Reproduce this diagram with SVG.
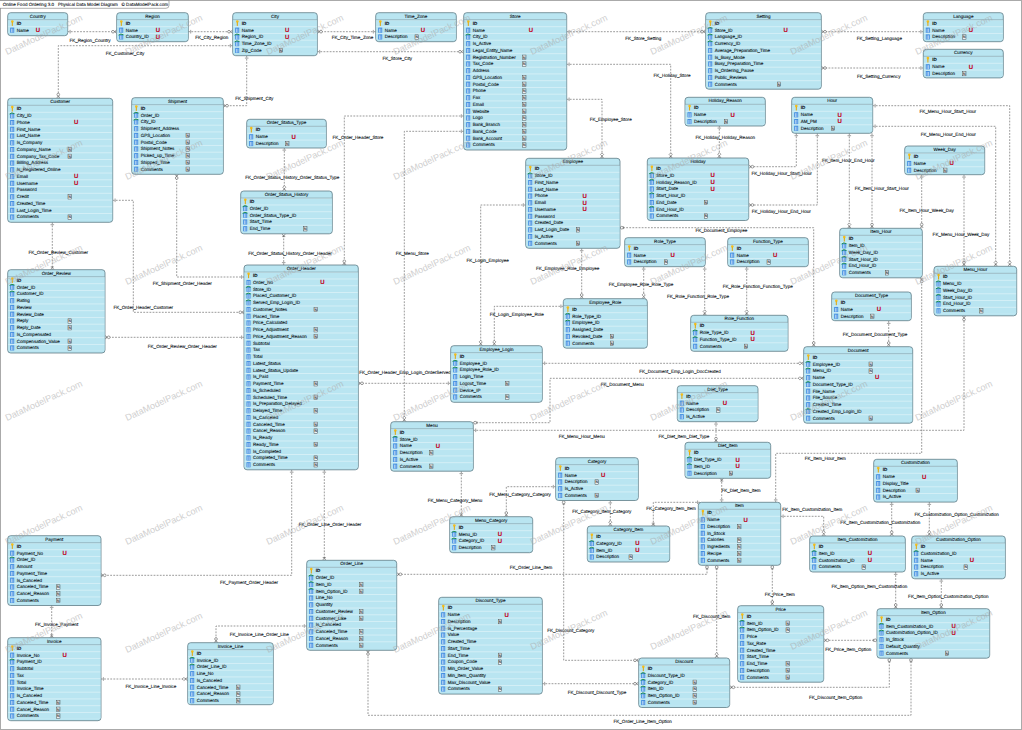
<svg xmlns="http://www.w3.org/2000/svg" width="1022" height="730" viewBox="0 0 1022 730">
<style>
text{font-family:"Liberation Sans",Arial,sans-serif;font-size:4.55px;fill:#0d1418;stroke:#0d1418;stroke-width:.1px;text-rendering:geometricPrecision}
.tt,.lb{text-anchor:middle}
.id{font-weight:bold}
.u{fill:#c4001a;stroke:#c4001a;font-weight:bold;font-size:6px;text-anchor:middle}
.n{font-size:3.5px;text-anchor:middle}
.b{fill:#b9e5f1;stroke:#5f7c87;stroke-width:.8}
.s{fill:url(#rw)}
.h{stroke:#7f9aa5;stroke-width:.6;fill:none}
.l{fill:none;stroke:#555;stroke-width:.6;stroke-dasharray:1.8 1.3}
.mp{marker-start:url(#p)}.mq{marker-start:url(#q)}
.eo{marker-end:url(#o)}.ed{marker-end:url(#d)}.et{marker-end:url(#t)}
.w{font-size:9.1px;fill:#a8a8a8;stroke:none;opacity:.55}
marker path,marker circle{stroke:#444;stroke-width:.5;fill:none}
marker circle,marker .df{fill:#fff}
</style>
<defs>
<pattern id="rw" patternUnits="userSpaceOnUse" width="20" height="6.75"><rect width="20" height="6.75" fill="#b9e5f1"/><rect y="0" width="20" height=".7" fill="#dff3f8"/></pattern>
<marker id="p" markerUnits="userSpaceOnUse" markerWidth="8" markerHeight="8" refX="8" refY="4" orient="auto-start-reverse"><path d="M5.6 2.2V5.8"/></marker>
<marker id="q" markerUnits="userSpaceOnUse" markerWidth="8" markerHeight="8" refX="8" refY="4" orient="auto-start-reverse"><path d="M4.4 2.6V5.4"/><circle cx="6.2" cy="4" r="1.4"/></marker>
<marker id="o" markerUnits="userSpaceOnUse" markerWidth="8" markerHeight="8" refX="8" refY="4" orient="auto-start-reverse"><path d="M5.6 4L8 2.3M5.6 4L8 5.7"/><circle cx="4.3" cy="4" r="1.35"/></marker>
<marker id="d" markerUnits="userSpaceOnUse" markerWidth="8" markerHeight="8" refX="8" refY="4" orient="auto-start-reverse"><path d="M5.6 4L8 2.3M5.6 4L8 5.7"/><path class="df" d="M2.6 4L4.2 2.4L5.8 4L4.2 5.6Z"/></marker>
<marker id="t" markerUnits="userSpaceOnUse" markerWidth="8" markerHeight="8" refX="8" refY="4" orient="auto-start-reverse"><path d="M5.6 4L8 2.3M5.6 4L8 5.7M5.2 2.4V5.6"/></marker>
<g id="k"><circle cx="4.6" cy="-3.3" r="1.3" fill="#f6bd16"/><rect x="4.1" y="-2.6" width="1" height="3.7" fill="#e3a400"/></g>
<g id="c"><rect x="2.5" y="-3.9" width="4" height="5.1" fill="#3f8be0"/><path d="M3.8 -3V.9M5.2 -3V.9" stroke="#fff" stroke-width=".55" fill="none"/></g>
<g id="f"><rect x="2.5" y="-3.9" width="4" height="5.1" fill="#3f8be0"/><path d="M3.8 -2.8V.9M5.2 -2.8V.9" stroke="#fff" stroke-width=".55" fill="none"/><path d="M1.9 -3.1Q4 -5.3 6.8 -3.4" stroke="#15893f" stroke-width=".9" fill="none"/></g>
<rect id="b" x="-1.7" y="-3.5" width="3.4" height="4.4" fill="#eef3f5" stroke="#444" stroke-width=".45"/>
</defs>
<rect width="1022" height="730" fill="#fff"/>
<rect x=".5" y=".5" width="1021" height="729" fill="none" stroke="#aaa"/>
<g id="title"><path d="M0 .5H169V5.3Q169 8.3 166 8.3H0" fill="#fff" stroke="#777" stroke-width=".6"/><text x="2.7" y="6.2">Online Food Ordering 3.0</text><text x="58" y="6.2">Physical Data Model Diagram</text><text x="121.5" y="6.2">© DataModelPack.com</text></g>

<g id="connectors">
<path class="l mp eo" d="M67.7 31.7H116.7"/>
<path class="l mp eo" d="M188.3 31.7H232.7"/>
<path class="l mp eo" d="M232.7 45.7H58.3V98.3"/>
<path class="l mp eo" d="M375.7 31.7H317.3"/>
<path class="l mp eo" d="M317.3 51.7H463.7"/>
<path class="l mp eo" d="M246.7 55.7V105.7H223.3"/>
<path class="l mp ed" d="M284.3 147.7V191"/>
<path class="l mp et" d="M283.7 265V233.8"/>
<path class="l mp et" d="M52.3 222.3V269.7"/>
<path class="l mp eo" d="M112.7 200.3H133.3V312.3H244"/>
<path class="l mp eo" d="M244 277H176.7V174.3"/>
<path class="l mp eo" d="M244 337.3H105"/>
<path class="l mp eo" d="M463.7 116H344.3V265"/>
<path class="l mp ed" d="M463.7 131.3H404.3V421.7"/>
<path class="l mp ed" d="M525.7 205H480.7V345.7"/>
<path class="l mp ed" d="M563.3 306.3H494.3V345.7"/>
<path class="l mp ed" d="M566.7 99.3H602V158.3"/>
<path class="l mp eo" d="M566.7 31.7H705.7"/>
<path class="l mp ed" d="M566.7 64.3H670.7V158.3"/>
<path class="l mp eo" d="M923.3 31.7H821.3"/>
<path class="l mp eo" d="M923.3 68H821.3"/>
<path class="l mp ed" d="M719.3 125.7V158"/>
<path class="l mp eo" d="M796.3 133.3V166.7H748.7"/>
<path class="l mp eo" d="M817.3 133.3V205H748.7"/>
<path class="l mp ed" d="M849.3 133.3V228.3"/>
<path class="l mp eo" d="M872 133.3V228.3"/>
<path class="l mp eo" d="M921.7 174.7V228.3"/>
<path class="l mp eo" d="M964 174.7V266.3"/>
<path class="l mp ed" d="M872.7 105.7H1009.7V266.3"/>
<path class="l mp ed" d="M872.7 126.3H995.7V266.3"/>
<path class="l mp eo" d="M473.3 430.3H964V315.8"/>
<path class="l mp eo" d="M700 502.3H653.3V526" style="marker-end:url(#t)"/>
<path class="l mp eo" d="M775.7 502.3V453.3H921.7V277.8"/>
<path class="l mp ed" d="M746.7 266.7V315.3"/>
<path class="l mp ed" d="M704.7 266.7V315.3"/>
<path class="l mp ed" d="M643.7 266.7V298.7"/>
<path class="l mp eo" d="M581.7 248.3V298.7"/>
<path class="l mq eo" d="M620 227.7H813.7V346.7"/>
<path class="l mp eo" d="M888.7 321V346.7"/>
<path class="l mp ed" d="M542.3 363.3H803.7"/>
<path class="l mq ed" d="M473.3 422.7H550V378.3H803.7"/>
<path class="l mp eo" d="M450.7 383.3H358.3"/>
<path class="l mp eo" d="M716 421.7V442.3"/>
<path class="l mp et" d="M721.7 502.3V478.3"/>
<path class="l mp et" d="M461.3 471.2V516.7"/>
<path class="l mp eo" d="M555.7 486.7H506.3V516.7"/>
<path class="l mp ed" d="M610.3 500.5V526"/>
<path class="l mq eo" d="M563.7 500.5V660.3H638.7"/>
<path class="l mp eo" d="M542.3 683.7H638.7"/>
<path class="l mq ed" d="M716.7 565.3V658"/>
<path class="l mq eo" d="M707 565.3V574.3H396.7"/>
<path class="l mq eo" d="M911 658.2V715.3H368V650.3"/>
<path class="l mq eo" d="M889.3 658.2V687.3H729.7"/>
<path class="l mq eo" d="M772.3 565.3V605.7"/>
<path class="l mq eo" d="M877 640.3H823.7"/>
<path class="l mp ed" d="M780.7 516.3H823.7V536"/>
<path class="l mp eo" d="M891.7 502V536"/>
<path class="l mp ed" d="M929.3 502V536"/>
<path class="l mp eo" d="M895.7 572V608.7"/>
<path class="l mp eo" d="M941.3 578.7V608.7"/>
<path class="l mp eo" d="M291.7 469.8V575.3H101"/>
<path class="l mp et" d="M324.3 469.8V560.3"/>
<path class="l mp et" d="M51.7 605V637.7"/>
<path class="l mp ed" d="M101 679H187.7"/>
<path class="l mp eo" d="M306.7 626H216V642.7"/>
<text class="lb" x="90" y="41.5">FK_Region_Country</text>
<text class="lb" x="211.7" y="39">FK_City_Region</text>
<text class="lb" x="125" y="55">FK_Customer_City</text>
<text class="lb" x="352.5" y="39">FK_City_Time_Zone</text>
<text class="lb" x="397.3" y="59.6">FK_Store_City</text>
<text class="lb" x="254.3" y="100.3">FK_Shipment_City</text>
<text class="lb" x="292.3" y="179">FK_Order_Status_History_Order_Status_Type</text>
<text class="lb" x="290" y="255">FK_Order_Status_History_Order_Header</text>
<text class="lb" x="58.3" y="254">FK_Order_Review_Customer</text>
<text class="lb" x="143.3" y="309.3">FK_Order_Header_Customer</text>
<text class="lb" x="182.3" y="285">FK_Shipment_Order_Header</text>
<text class="lb" x="182.3" y="347.6">FK_Order_Review_Order_Header</text>
<text class="lb" x="358" y="139.3">FK_Order_Header_Store</text>
<text class="lb" x="412.3" y="255">FK_Menu_Store</text>
<text class="lb" x="487.7" y="261.6">FK_Login_Employee</text>
<text class="lb" x="516.7" y="315.6">FK_Login_Employee_Role</text>
<text class="lb" x="610.7" y="120.6">FK_Employee_Store</text>
<text class="lb" x="643.3" y="40.3">FK_Store_Setting</text>
<text class="lb" x="672" y="77.3">FK_Holiday_Store</text>
<text class="lb" x="879.3" y="40.3">FK_Setting_Language</text>
<text class="lb" x="878.7" y="77.6">FK_Setting_Currency</text>
<text class="lb" x="725.3" y="139.3">FK_Holiday_Holiday_Reason</text>
<text class="lb" x="781.7" y="175">FK_Holiday_Hour_Start_Hour</text>
<text class="lb" x="781.3" y="212.6">FK_Holiday_Hour_End_Hour</text>
<text class="lb" x="848.3" y="162">FK_Item_Hour_End_Hour</text>
<text class="lb" x="881.7" y="190">FK_Item_Hour_Start_Hour</text>
<text class="lb" x="926.7" y="212.3">FK_Item_Hour_Week_Day</text>
<text class="lb" x="961" y="236">FK_Menu_Hour_Week_Day</text>
<text class="lb" x="947.7" y="113.3">FK_Menu_Hour_Start_Hour</text>
<text class="lb" x="948.3" y="135.6">FK_Menu_Hour_End_Hour</text>
<text class="lb" x="581.7" y="437.6">FK_Menu_Hour_Menu</text>
<text class="lb" x="825.3" y="460.3">FK_Item_Hour_Item</text>
<text class="lb" x="757.7" y="287.6">FK_Role_Function_Function_Type</text>
<text class="lb" x="698" y="298.3">FK_Role_Function_Role_Type</text>
<text class="lb" x="641" y="285.6">FK_Employee_Role_Role_Type</text>
<text class="lb" x="567.7" y="270">FK_Employee_Role_Employee</text>
<text class="lb" x="721.3" y="232.3">FK_Document_Employee</text>
<text class="lb" x="875" y="336.3">FK_Document_Document_Type</text>
<text class="lb" x="680" y="373">FK_Document_Emp_Login_DocCreated</text>
<text class="lb" x="622.3" y="386.3">FK_Document_Menu</text>
<text class="lb" x="405" y="374">FK_Order_Header_Emp_Login_OrderServed</text>
<text class="lb" x="684" y="438">FK_Diet_Item_Diet_Type</text>
<text class="lb" x="741" y="492">FK_Diet_Item_Item</text>
<text class="lb" x="455" y="501.6">FK_Menu_Category_Menu</text>
<text class="lb" x="520" y="495.6">FK_Menu_Category_Category</text>
<text class="lb" x="601.7" y="513">FK_Category_Item_Category</text>
<text class="lb" x="671" y="510">FK_Category_Item_Item</text>
<text class="lb" x="570.7" y="631.6">FK_Discount_Category</text>
<text class="lb" x="597" y="694">FK_Discount_Discount_Type</text>
<text class="lb" x="711.7" y="618">FK_Discount_Item</text>
<text class="lb" x="531" y="569.3">FK_Order_Line_Item</text>
<text class="lb" x="642.7" y="723.3">FK_Order_Line_Item_Option</text>
<text class="lb" x="835.7" y="698.6">FK_Discount_Item_Option</text>
<text class="lb" x="779.7" y="595.6">FK_Price_Item</text>
<text class="lb" x="848.3" y="651">FK_Price_Item_Option</text>
<text class="lb" x="812.3" y="511">FK_Item_Customization_Item</text>
<text class="lb" x="880.3" y="524.3">FK_Item_Customization_Customization</text>
<text class="lb" x="956.7" y="515.6">FK_Customization_Option_Customization</text>
<text class="lb" x="869.3" y="587.6">FK_Item_Option_Item_Customization</text>
<text class="lb" x="948.3" y="597.6">FK_Item_Option_Customization_Option</text>
<text class="lb" x="249" y="584">FK_Payment_Order_Header</text>
<text class="lb" x="330" y="525.6">FK_Order_Line_Order_Header</text>
<text class="lb" x="56.7" y="625.6">FK_Invoice_Payment</text>
<text class="lb" x="151" y="688.3">FK_Invoice_Line_Invoice</text>
<text class="lb" x="259.3" y="635.6">FK_Invoice_Line_Order_Line</text>
</g>

<g id="nodes">
<g id="Country" transform="translate(7.7 12.7)"><rect class="b" width="60" height="23" rx="3"/><rect class="s" x=".5" y="7.15" width="59" height="13"/><path class="h" d="M0 7H60"/><text class="tt" x="30" y="5">Country</text>
<use href="#k" y="12.1"/><text class="id" x="9" y="12.1">ID</text>
<use href="#c" y="18.85"/><text x="9" y="18.85">Name</text><text class="u" x="30.3" y="19.3">U</text></g>

<g id="Region" transform="translate(116.7 12.7)"><rect class="b" width="71.6" height="29" rx="3"/><rect class="s" x=".5" y="7.15" width="70.6" height="19.75"/><path class="h" d="M0 7H71.6"/><text class="tt" x="35.8" y="5">Region</text>
<use href="#k" y="12.1"/><text class="id" x="9" y="12.1">ID</text>
<use href="#c" y="18.85"/><text x="9" y="18.85">Name</text><text class="u" x="41.3" y="19.3">U</text>
<use href="#f" y="25.6"/><text x="9" y="25.6">Country_ID</text><text class="u" x="41.3" y="26">U</text></g>

<g id="City" transform="translate(232.7 12.7)"><rect class="b" width="84.6" height="43" rx="3"/><rect class="s" x=".5" y="7.15" width="83.6" height="33.25"/><path class="h" d="M0 7H84.6"/><text class="tt" x="42.3" y="5">City</text>
<use href="#k" y="12.1"/><text class="id" x="9" y="12.1">ID</text>
<use href="#c" y="18.85"/><text x="9" y="18.85">Name</text><text class="u" x="54.6" y="19.3">U</text>
<use href="#f" y="25.6"/><text x="9" y="25.6">Region_ID</text><text class="u" x="54.6" y="26">U</text>
<use href="#f" y="32.35"/><text x="9" y="32.35">Time_Zone_ID</text>
<use href="#c" y="39.1"/><text x="9" y="39.1">Zip_Code</text><use href="#b" x="48.3" y="39.1"/><text class="n" x="48.3" y="39.1">N</text></g>

<g id="Time_Zone" transform="translate(375.7 12.7)"><rect class="b" width="80.6" height="29" rx="3"/><rect class="s" x=".5" y="7.15" width="79.6" height="19.75"/><path class="h" d="M0 7H80.6"/><text class="tt" x="40.3" y="5">Time_Zone</text>
<use href="#k" y="12.1"/><text class="id" x="9" y="12.1">ID</text>
<use href="#c" y="18.85"/><text x="9" y="18.85">Name</text><text class="u" x="47.3" y="19.3">U</text>
<use href="#c" y="25.6"/><text x="9" y="25.6">Description</text><use href="#b" x="41" y="25.6"/><text class="n" x="41" y="25.6">N</text></g>

<g id="Store" transform="translate(463.7 12.7)"><rect class="b" width="103" height="137.3" rx="3"/><rect class="s" x=".5" y="7.15" width="102" height="127.75"/><path class="h" d="M0 7H103"/><text class="tt" x="51.5" y="5">Store</text>
<use href="#k" y="12.1"/><text class="id" x="9" y="12.1">ID</text>
<use href="#c" y="18.85"/><text x="9" y="18.85">Name</text><text class="u" x="67.3" y="19.3">U</text>
<use href="#f" y="25.6"/><text x="9" y="25.6">City_ID</text>
<use href="#c" y="32.35"/><text x="9" y="32.35">Is_Active</text>
<use href="#c" y="39.1"/><text x="9" y="39.1">Legal_Entity_Name</text>
<use href="#c" y="45.85"/><text x="9" y="45.85">Registration_Number</text><use href="#b" x="60.6" y="45.85"/><text class="n" x="60.6" y="45.85">N</text>
<use href="#c" y="52.6"/><text x="9" y="52.6">Tax_Code</text><use href="#b" x="60.6" y="52.6"/><text class="n" x="60.6" y="52.6">N</text>
<use href="#c" y="59.35"/><text x="9" y="59.35">Address</text>
<use href="#c" y="66.1"/><text x="9" y="66.1">GPS_Location</text><use href="#b" x="60.6" y="66.1"/><text class="n" x="60.6" y="66.1">N</text>
<use href="#c" y="72.85"/><text x="9" y="72.85">Postal_Code</text><use href="#b" x="60.6" y="72.85"/><text class="n" x="60.6" y="72.85">N</text>
<use href="#c" y="79.6"/><text x="9" y="79.6">Phone</text><use href="#b" x="60.6" y="79.6"/><text class="n" x="60.6" y="79.6">N</text>
<use href="#c" y="86.35"/><text x="9" y="86.35">Fax</text><use href="#b" x="60.6" y="86.35"/><text class="n" x="60.6" y="86.35">N</text>
<use href="#c" y="93.1"/><text x="9" y="93.1">Email</text><use href="#b" x="60.6" y="93.1"/><text class="n" x="60.6" y="93.1">N</text>
<use href="#c" y="99.85"/><text x="9" y="99.85">Website</text><use href="#b" x="60.6" y="99.85"/><text class="n" x="60.6" y="99.85">N</text>
<use href="#c" y="106.6"/><text x="9" y="106.6">Logo</text><use href="#b" x="60.6" y="106.6"/><text class="n" x="60.6" y="106.6">N</text>
<use href="#c" y="113.35"/><text x="9" y="113.35">Bank_Branch</text><use href="#b" x="60.6" y="113.35"/><text class="n" x="60.6" y="113.35">N</text>
<use href="#c" y="120.1"/><text x="9" y="120.1">Bank_Code</text><use href="#b" x="60.6" y="120.1"/><text class="n" x="60.6" y="120.1">N</text>
<use href="#c" y="126.85"/><text x="9" y="126.85">Bank_Account</text><use href="#b" x="60.6" y="126.85"/><text class="n" x="60.6" y="126.85">N</text>
<use href="#c" y="133.6"/><text x="9" y="133.6">Comments</text><use href="#b" x="60.6" y="133.6"/><text class="n" x="60.6" y="133.6">N</text></g>

<g id="Setting" transform="translate(705.7 12.7)"><rect class="b" width="115.6" height="76.5" rx="3"/><rect class="s" x=".5" y="7.15" width="114.6" height="67"/><path class="h" d="M0 7H115.6"/><text class="tt" x="57.8" y="5">Setting</text>
<use href="#k" y="12.1"/><text class="id" x="9" y="12.1">ID</text>
<use href="#f" y="18.85"/><text x="9" y="18.85">Store_ID</text><text class="u" x="80" y="19.3">U</text>
<use href="#f" y="25.6"/><text x="9" y="25.6">Language_ID</text>
<use href="#f" y="32.35"/><text x="9" y="32.35">Currency_ID</text>
<use href="#c" y="39.1"/><text x="9" y="39.1">Average_Preparation_Time</text>
<use href="#c" y="45.85"/><text x="9" y="45.85">Is_Busy_Mode</text>
<use href="#c" y="52.6"/><text x="9" y="52.6">Busy_Preparation_Time</text>
<use href="#c" y="59.35"/><text x="9" y="59.35">Is_Ordering_Pause</text>
<use href="#c" y="66.1"/><text x="9" y="66.1">Public_Reviews</text>
<use href="#c" y="72.85"/><text x="9" y="72.85">Comments</text><use href="#b" x="73.3" y="72.85"/><text class="n" x="73.3" y="72.85">N</text></g>

<g id="Language" transform="translate(923.3 12.7)"><rect class="b" width="80" height="29" rx="3"/><rect class="s" x=".5" y="7.15" width="79" height="19.75"/><path class="h" d="M0 7H80"/><text class="tt" x="40" y="5">Language</text>
<use href="#k" y="12.1"/><text class="id" x="9" y="12.1">ID</text>
<use href="#c" y="18.85"/><text x="9" y="18.85">Name</text><text class="u" x="47.7" y="19.3">U</text>
<use href="#c" y="25.6"/><text x="9" y="25.6">Description</text><use href="#b" x="41" y="25.6"/><text class="n" x="41" y="25.6">N</text></g>

<g id="Currency" transform="translate(923.3 49.3)"><rect class="b" width="80" height="28.6" rx="3"/><rect class="s" x=".5" y="7.15" width="79" height="19.75"/><path class="h" d="M0 7H80"/><text class="tt" x="40" y="5">Currency</text>
<use href="#k" y="12.1"/><text class="id" x="9" y="12.1">ID</text>
<use href="#c" y="18.85"/><text x="9" y="18.85">Name</text><text class="u" x="47.7" y="19.3">U</text>
<use href="#c" y="25.6"/><text x="9" y="25.6">Description</text><use href="#b" x="41" y="25.6"/><text class="n" x="41" y="25.6">N</text></g>

<g id="Customer" transform="translate(7.7 98.3)"><rect class="b" width="105" height="124" rx="3"/><rect class="s" x=".5" y="7.15" width="104" height="114.25"/><path class="h" d="M0 7H105"/><text class="tt" x="52.5" y="5">Customer</text>
<use href="#k" y="12.1"/><text class="id" x="9" y="12.1">ID</text>
<use href="#f" y="18.85"/><text x="9" y="18.85">City_ID</text>
<use href="#c" y="25.6"/><text x="9" y="25.6">Phone</text><text class="u" x="68.6" y="26">U</text>
<use href="#c" y="32.35"/><text x="9" y="32.35">First_Name</text>
<use href="#c" y="39.1"/><text x="9" y="39.1">Last_Name</text>
<use href="#c" y="45.85"/><text x="9" y="45.85">Is_Company</text>
<use href="#c" y="52.6"/><text x="9" y="52.6">Company_Name</text><use href="#b" x="62" y="52.6"/><text class="n" x="62" y="52.6">N</text>
<use href="#c" y="59.35"/><text x="9" y="59.35">Company_Tax_Code</text><use href="#b" x="62" y="59.35"/><text class="n" x="62" y="59.35">N</text>
<use href="#c" y="66.1"/><text x="9" y="66.1">Billing_Address</text>
<use href="#c" y="72.85"/><text x="9" y="72.85">Is_Registered_Online</text>
<use href="#c" y="79.6"/><text x="9" y="79.6">Email</text><text class="u" x="68.6" y="80">U</text>
<use href="#c" y="86.35"/><text x="9" y="86.35">Username</text><text class="u" x="68.6" y="86.8">U</text>
<use href="#c" y="93.1"/><text x="9" y="93.1">Password</text>
<use href="#c" y="99.85"/><text x="9" y="99.85">Credit</text><use href="#b" x="62" y="99.85"/><text class="n" x="62" y="99.85">N</text>
<use href="#c" y="106.6"/><text x="9" y="106.6">Created_Time</text>
<use href="#c" y="113.35"/><text x="9" y="113.35">Last_Login_Time</text>
<use href="#c" y="120.1"/><text x="9" y="120.1">Comments</text><use href="#b" x="62" y="120.1"/><text class="n" x="62" y="120.1">N</text></g>

<g id="Shipment" transform="translate(131.7 97.7)"><rect class="b" width="91.6" height="76.6" rx="3"/><rect class="s" x=".5" y="7.15" width="90.6" height="67"/><path class="h" d="M0 7H91.6"/><text class="tt" x="45.8" y="5">Shipment</text>
<use href="#k" y="12.1"/><text class="id" x="9" y="12.1">ID</text>
<use href="#f" y="18.85"/><text x="9" y="18.85">Order_ID</text>
<use href="#f" y="25.6"/><text x="9" y="25.6">City_ID</text>
<use href="#c" y="32.35"/><text x="9" y="32.35">Shipment_Address</text>
<use href="#c" y="39.1"/><text x="9" y="39.1">GPS_Location</text><use href="#b" x="56" y="39.1"/><text class="n" x="56" y="39.1">N</text>
<use href="#c" y="45.85"/><text x="9" y="45.85">Postal_Code</text><use href="#b" x="56" y="45.85"/><text class="n" x="56" y="45.85">N</text>
<use href="#c" y="52.6"/><text x="9" y="52.6">Shipment_Notes</text><use href="#b" x="56" y="52.6"/><text class="n" x="56" y="52.6">N</text>
<use href="#c" y="59.35"/><text x="9" y="59.35">Picked_up_Time</text><use href="#b" x="56" y="59.35"/><text class="n" x="56" y="59.35">N</text>
<use href="#c" y="66.1"/><text x="9" y="66.1">Shipped_Time</text><use href="#b" x="56" y="66.1"/><text class="n" x="56" y="66.1">N</text>
<use href="#c" y="72.85"/><text x="9" y="72.85">Comments</text><use href="#b" x="56" y="72.85"/><text class="n" x="56" y="72.85">N</text></g>

<g id="Order_Status_Type" transform="translate(246.7 119.3)"><rect class="b" width="79.6" height="28.7" rx="3"/><rect class="s" x=".5" y="7.15" width="78.6" height="19.75"/><path class="h" d="M0 7H79.6"/><text class="tt" x="39.8" y="5">Order_Status_Type</text>
<use href="#k" y="12.1"/><text class="id" x="9" y="12.1">ID</text>
<use href="#c" y="18.85"/><text x="9" y="18.85">Name</text><text class="u" x="47" y="19.3">U</text>
<use href="#c" y="25.6"/><text x="9" y="25.6">Description</text><use href="#b" x="40.6" y="25.6"/><text class="n" x="40.6" y="25.6">N</text></g>

<g id="Order_Status_History" transform="translate(240.7 191)"><rect class="b" width="91.6" height="42.8" rx="3"/><rect class="s" x=".5" y="7.15" width="90.6" height="33.25"/><path class="h" d="M0 7H91.6"/><text class="tt" x="45.8" y="5">Order_Status_History</text>
<use href="#k" y="12.1"/><text class="id" x="9" y="12.1">ID</text>
<use href="#f" y="18.85"/><text x="9" y="18.85">Order_ID</text>
<use href="#f" y="25.6"/><text x="9" y="25.6">Order_Status_Type_ID</text>
<use href="#c" y="32.35"/><text x="9" y="32.35">Start_Time</text>
<use href="#c" y="39.1"/><text x="9" y="39.1">End_Time</text><use href="#b" x="64.6" y="39.1"/><text class="n" x="64.6" y="39.1">N</text></g>

<g id="Holiday_Reason" transform="translate(685 97.3)"><rect class="b" width="80.3" height="28.7" rx="3"/><rect class="s" x=".5" y="7.15" width="79.3" height="19.75"/><path class="h" d="M0 7H80.3"/><text class="tt" x="40.2" y="5">Holiday_Reason</text>
<use href="#k" y="12.1"/><text class="id" x="9" y="12.1">ID</text>
<use href="#c" y="18.85"/><text x="9" y="18.85">Name</text><text class="u" x="47.7" y="19.3">U</text>
<use href="#c" y="25.6"/><text x="9" y="25.6">Description</text><use href="#b" x="41" y="25.6"/><text class="n" x="41" y="25.6">N</text></g>

<g id="Hour" transform="translate(791.7 97.3)"><rect class="b" width="81" height="36" rx="3"/><rect class="s" x=".5" y="7.15" width="80" height="26.5"/><path class="h" d="M0 7H81"/><text class="tt" x="40.5" y="5">Hour</text>
<use href="#k" y="12.1"/><text class="id" x="9" y="12.1">ID</text>
<use href="#c" y="18.85"/><text x="9" y="18.85">Name</text><text class="u" x="48" y="19.3">U</text>
<use href="#c" y="25.6"/><text x="9" y="25.6">AM_PM</text><text class="u" x="48" y="26">U</text>
<use href="#c" y="32.35"/><text x="9" y="32.35">Description</text><use href="#b" x="41.3" y="32.35"/><text class="n" x="41.3" y="32.35">N</text></g>

<g id="Week_Day" transform="translate(904.7 146)"><rect class="b" width="80" height="28.7" rx="3"/><rect class="s" x=".5" y="7.15" width="79" height="19.75"/><path class="h" d="M0 7H80"/><text class="tt" x="40" y="5">Week_Day</text>
<use href="#k" y="12.1"/><text class="id" x="9" y="12.1">ID</text>
<use href="#c" y="18.85"/><text x="9" y="18.85">Name</text><text class="u" x="47" y="19.3">U</text>
<use href="#c" y="25.6"/><text x="9" y="25.6">Description</text><use href="#b" x="40.6" y="25.6"/><text class="n" x="40.6" y="25.6">N</text></g>

<g id="Employee" transform="translate(525.7 158.3)"><rect class="b" width="94.3" height="90" rx="3"/><rect class="s" x=".5" y="7.15" width="93.3" height="80.5"/><path class="h" d="M0 7H94.3"/><text class="tt" x="47.2" y="5">Employee</text>
<use href="#k" y="12.1"/><text class="id" x="9" y="12.1">ID</text>
<use href="#f" y="18.85"/><text x="9" y="18.85">Store_ID</text>
<use href="#c" y="25.6"/><text x="9" y="25.6">First_Name</text>
<use href="#c" y="32.35"/><text x="9" y="32.35">Last_Name</text>
<use href="#c" y="39.1"/><text x="9" y="39.1">Phone</text><text class="u" x="59" y="39.5">U</text>
<use href="#c" y="45.85"/><text x="9" y="45.85">Email</text><text class="u" x="59" y="46.3">U</text>
<use href="#c" y="52.6"/><text x="9" y="52.6">Username</text><text class="u" x="59" y="53">U</text>
<use href="#c" y="59.35"/><text x="9" y="59.35">Password</text>
<use href="#c" y="66.1"/><text x="9" y="66.1">Created_Date</text>
<use href="#c" y="72.85"/><text x="9" y="72.85">Last_Login_Date</text><use href="#b" x="52.3" y="72.85"/><text class="n" x="52.3" y="72.85">N</text>
<use href="#c" y="79.6"/><text x="9" y="79.6">Is_Active</text>
<use href="#c" y="86.35"/><text x="9" y="86.35">Comments</text><use href="#b" x="52.3" y="86.35"/><text class="n" x="52.3" y="86.35">N</text></g>

<g id="Holiday" transform="translate(647.3 158)"><rect class="b" width="101.4" height="62.5" rx="3"/><rect class="s" x=".5" y="7.15" width="100.4" height="53.5"/><path class="h" d="M0 7H101.4"/><text class="tt" x="50.7" y="5">Holiday</text>
<use href="#k" y="12.1"/><text class="id" x="9" y="12.1">ID</text>
<use href="#f" y="18.85"/><text x="9" y="18.85">Store_ID</text><text class="u" x="65.4" y="19.3">U</text>
<use href="#f" y="25.6"/><text x="9" y="25.6">Holiday_Reason_ID</text><text class="u" x="65.4" y="26">U</text>
<use href="#c" y="32.35"/><text x="9" y="32.35">Start_Date</text><text class="u" x="65.4" y="32.8">U</text>
<use href="#f" y="39.1"/><text x="9" y="39.1">Start_Hour_ID</text>
<use href="#c" y="45.85"/><text x="9" y="45.85">End_Date</text><use href="#b" x="58.7" y="45.85"/><text class="n" x="58.7" y="45.85">N</text>
<use href="#f" y="52.6"/><text x="9" y="52.6">End_Hour_ID</text>
<use href="#c" y="59.35"/><text x="9" y="59.35">Comments</text><use href="#b" x="58.7" y="59.35"/><text class="n" x="58.7" y="59.35">N</text></g>

<g id="Item_Hour" transform="translate(839.7 228.3)"><rect class="b" width="82.6" height="49.5" rx="3"/><rect class="s" x=".5" y="7.15" width="81.6" height="40"/><path class="h" d="M0 7H82.6"/><text class="tt" x="41.3" y="5">Item_Hour</text>
<use href="#k" y="12.1"/><text class="id" x="9" y="12.1">ID</text>
<use href="#f" y="18.85"/><text x="9" y="18.85">Item_ID</text>
<use href="#f" y="25.6"/><text x="9" y="25.6">Week_Day_ID</text>
<use href="#f" y="32.35"/><text x="9" y="32.35">Start_Hour_ID</text>
<use href="#f" y="39.1"/><text x="9" y="39.1">End_Hour_ID</text>
<use href="#c" y="45.85"/><text x="9" y="45.85">Comments</text><use href="#b" x="47.3" y="45.85"/><text class="n" x="47.3" y="45.85">N</text></g>

<g id="Menu_Hour" transform="translate(934 266.3)"><rect class="b" width="82.7" height="49.5" rx="3"/><rect class="s" x=".5" y="7.15" width="81.7" height="40"/><path class="h" d="M0 7H82.7"/><text class="tt" x="41.3" y="5">Menu_Hour</text>
<use href="#k" y="12.1"/><text class="id" x="9" y="12.1">ID</text>
<use href="#f" y="18.85"/><text x="9" y="18.85">Menu_ID</text>
<use href="#f" y="25.6"/><text x="9" y="25.6">Week_Day_ID</text>
<use href="#f" y="32.35"/><text x="9" y="32.35">Start_Hour_ID</text>
<use href="#f" y="39.1"/><text x="9" y="39.1">End_Hour_ID</text>
<use href="#c" y="45.85"/><text x="9" y="45.85">Comments</text><use href="#b" x="47.3" y="45.85"/><text class="n" x="47.3" y="45.85">N</text></g>

<g id="Role_Type" transform="translate(624.7 237.7)"><rect class="b" width="80.6" height="29" rx="3"/><rect class="s" x=".5" y="7.15" width="79.6" height="19.75"/><path class="h" d="M0 7H80.6"/><text class="tt" x="40.3" y="5">Role_Type</text>
<use href="#k" y="12.1"/><text class="id" x="9" y="12.1">ID</text>
<use href="#c" y="18.85"/><text x="9" y="18.85">Name</text><text class="u" x="48" y="19.3">U</text>
<use href="#c" y="25.6"/><text x="9" y="25.6">Description</text><use href="#b" x="41.3" y="25.6"/><text class="n" x="41.3" y="25.6">N</text></g>

<g id="Function_Type" transform="translate(727.7 237.7)"><rect class="b" width="80.6" height="29" rx="3"/><rect class="s" x=".5" y="7.15" width="79.6" height="19.75"/><path class="h" d="M0 7H80.6"/><text class="tt" x="40.3" y="5">Function_Type</text>
<use href="#k" y="12.1"/><text class="id" x="9" y="12.1">ID</text>
<use href="#c" y="18.85"/><text x="9" y="18.85">Name</text><text class="u" x="47.6" y="19.3">U</text>
<use href="#c" y="25.6"/><text x="9" y="25.6">Description</text><use href="#b" x="41" y="25.6"/><text class="n" x="41" y="25.6">N</text></g>

<g id="Employee_Role" transform="translate(563.3 298.7)"><rect class="b" width="84" height="49.5" rx="3"/><rect class="s" x=".5" y="7.15" width="83" height="40"/><path class="h" d="M0 7H84"/><text class="tt" x="42" y="5">Employee_Role</text>
<use href="#k" y="12.1"/><text class="id" x="9" y="12.1">ID</text>
<use href="#f" y="18.85"/><text x="9" y="18.85">Role_Type_ID</text>
<use href="#f" y="25.6"/><text x="9" y="25.6">Employee_ID</text>
<use href="#c" y="32.35"/><text x="9" y="32.35">Assigned_Date</text>
<use href="#c" y="39.1"/><text x="9" y="39.1">Revoked_Date</text><use href="#b" x="48.7" y="39.1"/><text class="n" x="48.7" y="39.1">N</text>
<use href="#c" y="45.85"/><text x="9" y="45.85">Comments</text><use href="#b" x="48.7" y="45.85"/><text class="n" x="48.7" y="45.85">N</text></g>

<g id="Role_Function" transform="translate(690.7 315.3)"><rect class="b" width="97.3" height="36" rx="3"/><rect class="s" x=".5" y="7.15" width="96.3" height="26.5"/><path class="h" d="M0 7H97.3"/><text class="tt" x="48.6" y="5">Role_Function</text>
<use href="#k" y="12.1"/><text class="id" x="9" y="12.1">ID</text>
<use href="#f" y="18.85"/><text x="9" y="18.85">Role_Type_ID</text><text class="u" x="62" y="19.3">U</text>
<use href="#f" y="25.6"/><text x="9" y="25.6">Function_Type_ID</text><text class="u" x="62" y="26">U</text>
<use href="#c" y="32.35"/><text x="9" y="32.35">Comments</text><use href="#b" x="55.3" y="32.35"/><text class="n" x="55.3" y="32.35">N</text></g>

<g id="Document_Type" transform="translate(831.7 292)"><rect class="b" width="79.6" height="28.7" rx="3"/><rect class="s" x=".5" y="7.15" width="78.6" height="19.75"/><path class="h" d="M0 7H79.6"/><text class="tt" x="39.8" y="5">Document_Type</text>
<use href="#k" y="12.1"/><text class="id" x="9" y="12.1">ID</text>
<use href="#c" y="18.85"/><text x="9" y="18.85">Name</text><text class="u" x="47.3" y="19.3">U</text>
<use href="#c" y="25.6"/><text x="9" y="25.6">Description</text><use href="#b" x="40.6" y="25.6"/><text class="n" x="40.6" y="25.6">N</text></g>

<g id="Document" transform="translate(803.7 346.7)"><rect class="b" width="109" height="76.5" rx="3"/><rect class="s" x=".5" y="7.15" width="108" height="67"/><path class="h" d="M0 7H109"/><text class="tt" x="54.5" y="5">Document</text>
<use href="#k" y="12.1"/><text class="id" x="9" y="12.1">ID</text>
<use href="#f" y="18.85"/><text x="9" y="18.85">Employee_ID</text><use href="#b" x="67" y="18.85"/><text class="n" x="67" y="18.85">N</text>
<use href="#f" y="25.6"/><text x="9" y="25.6">Menu_ID</text><use href="#b" x="67" y="25.6"/><text class="n" x="67" y="25.6">N</text>
<use href="#c" y="32.35"/><text x="9" y="32.35">Name</text><text class="u" x="73.6" y="32.8">U</text>
<use href="#f" y="39.1"/><text x="9" y="39.1">Document_Type_ID</text>
<use href="#c" y="45.85"/><text x="9" y="45.85">File_Name</text>
<use href="#c" y="52.6"/><text x="9" y="52.6">File_Source</text>
<use href="#c" y="59.35"/><text x="9" y="59.35">Created_Time</text>
<use href="#f" y="66.1"/><text x="9" y="66.1">Created_Emp_Login_ID</text>
<use href="#c" y="72.85"/><text x="9" y="72.85">Comments</text><use href="#b" x="67" y="72.85"/><text class="n" x="67" y="72.85">N</text></g>

<g id="Order_Header" transform="translate(244 265)"><rect class="b" width="114.3" height="204.8" rx="3"/><rect class="s" x=".5" y="7.15" width="113.3" height="195.25"/><path class="h" d="M0 7H114.3"/><text class="tt" x="57.2" y="5">Order_Header</text>
<use href="#k" y="12.1"/><text class="id" x="9" y="12.1">ID</text>
<use href="#c" y="18.85"/><text x="9" y="18.85">Order_No</text><text class="u" x="78.3" y="19.3">U</text>
<use href="#f" y="25.6"/><text x="9" y="25.6">Store_ID</text>
<use href="#f" y="32.35"/><text x="9" y="32.35">Placed_Customer_ID</text>
<use href="#f" y="39.1"/><text x="9" y="39.1">Served_Emp_Login_ID</text>
<use href="#c" y="45.85"/><text x="9" y="45.85">Customer_Notes</text><use href="#b" x="71.7" y="45.85"/><text class="n" x="71.7" y="45.85">N</text>
<use href="#c" y="52.6"/><text x="9" y="52.6">Placed_Time</text>
<use href="#c" y="59.35"/><text x="9" y="59.35">Price_Calculated</text>
<use href="#c" y="66.1"/><text x="9" y="66.1">Price_Adjustment</text><use href="#b" x="71.7" y="66.1"/><text class="n" x="71.7" y="66.1">N</text>
<use href="#c" y="72.85"/><text x="9" y="72.85">Price_Adjustment_Reason</text><use href="#b" x="71.7" y="72.85"/><text class="n" x="71.7" y="72.85">N</text>
<use href="#c" y="79.6"/><text x="9" y="79.6">Subtotal</text>
<use href="#c" y="86.35"/><text x="9" y="86.35">Tax</text>
<use href="#c" y="93.1"/><text x="9" y="93.1">Total</text>
<use href="#c" y="99.85"/><text x="9" y="99.85">Latest_Status</text>
<use href="#c" y="106.6"/><text x="9" y="106.6">Latest_Status_Update</text>
<use href="#c" y="113.35"/><text x="9" y="113.35">Is_Paid</text>
<use href="#c" y="120.1"/><text x="9" y="120.1">Payment_Time</text><use href="#b" x="71.7" y="120.1"/><text class="n" x="71.7" y="120.1">N</text>
<use href="#c" y="126.85"/><text x="9" y="126.85">Is_Scheduled</text>
<use href="#c" y="133.6"/><text x="9" y="133.6">Scheduled_Time</text><use href="#b" x="71.7" y="133.6"/><text class="n" x="71.7" y="133.6">N</text>
<use href="#c" y="140.35"/><text x="9" y="140.35">Is_Preparation_Delayed</text>
<use href="#c" y="147.1"/><text x="9" y="147.1">Delayed_Time</text><use href="#b" x="71.7" y="147.1"/><text class="n" x="71.7" y="147.1">N</text>
<use href="#c" y="153.85"/><text x="9" y="153.85">Is_Canceled</text>
<use href="#c" y="160.6"/><text x="9" y="160.6">Canceled_Time</text><use href="#b" x="71.7" y="160.6"/><text class="n" x="71.7" y="160.6">N</text>
<use href="#c" y="167.35"/><text x="9" y="167.35">Cancel_Reason</text><use href="#b" x="71.7" y="167.35"/><text class="n" x="71.7" y="167.35">N</text>
<use href="#c" y="174.1"/><text x="9" y="174.1">Is_Ready</text>
<use href="#c" y="180.85"/><text x="9" y="180.85">Ready_Time</text><use href="#b" x="71.7" y="180.85"/><text class="n" x="71.7" y="180.85">N</text>
<use href="#c" y="187.6"/><text x="9" y="187.6">Is_Completed</text>
<use href="#c" y="194.35"/><text x="9" y="194.35">Completed_Time</text><use href="#b" x="71.7" y="194.35"/><text class="n" x="71.7" y="194.35">N</text>
<use href="#c" y="201.1"/><text x="9" y="201.1">Comments</text><use href="#b" x="71.7" y="201.1"/><text class="n" x="71.7" y="201.1">N</text></g>

<g id="Order_Review" transform="translate(7.7 269.7)"><rect class="b" width="97.3" height="83.3" rx="3"/><rect class="s" x=".5" y="7.15" width="96.3" height="73.75"/><path class="h" d="M0 7H97.3"/><text class="tt" x="48.6" y="5">Order_Review</text>
<use href="#k" y="12.1"/><text class="id" x="9" y="12.1">ID</text>
<use href="#f" y="18.85"/><text x="9" y="18.85">Order_ID</text>
<use href="#f" y="25.6"/><text x="9" y="25.6">Customer_ID</text>
<use href="#c" y="32.35"/><text x="9" y="32.35">Rating</text>
<use href="#c" y="39.1"/><text x="9" y="39.1">Review</text>
<use href="#c" y="45.85"/><text x="9" y="45.85">Review_Date</text>
<use href="#c" y="52.6"/><text x="9" y="52.6">Reply</text><use href="#b" x="62" y="52.6"/><text class="n" x="62" y="52.6">N</text>
<use href="#c" y="59.35"/><text x="9" y="59.35">Reply_Date</text><use href="#b" x="62" y="59.35"/><text class="n" x="62" y="59.35">N</text>
<use href="#c" y="66.1"/><text x="9" y="66.1">Is_Compensated</text>
<use href="#c" y="72.85"/><text x="9" y="72.85">Compensation_Value</text><use href="#b" x="62" y="72.85"/><text class="n" x="62" y="72.85">N</text>
<use href="#c" y="79.6"/><text x="9" y="79.6">Comments</text><use href="#b" x="62" y="79.6"/><text class="n" x="62" y="79.6">N</text></g>

<g id="Employee_Login" transform="translate(450.7 345.7)"><rect class="b" width="91.6" height="56.6" rx="3"/><rect class="s" x=".5" y="7.15" width="90.6" height="46.75"/><path class="h" d="M0 7H91.6"/><text class="tt" x="45.8" y="5">Employee_Login</text>
<use href="#k" y="12.1"/><text class="id" x="9" y="12.1">ID</text>
<use href="#f" y="18.85"/><text x="9" y="18.85">Employee_ID</text>
<use href="#f" y="25.6"/><text x="9" y="25.6">Employee_Role_ID</text>
<use href="#c" y="32.35"/><text x="9" y="32.35">Login_Time</text>
<use href="#c" y="39.1"/><text x="9" y="39.1">Logout_Time</text><use href="#b" x="56.6" y="39.1"/><text class="n" x="56.6" y="39.1">N</text>
<use href="#c" y="45.85"/><text x="9" y="45.85">Device_IP</text>
<use href="#c" y="52.6"/><text x="9" y="52.6">Comments</text><use href="#b" x="56.6" y="52.6"/><text class="n" x="56.6" y="52.6">N</text></g>

<g id="Diet_Type" transform="translate(677.3 385.7)"><rect class="b" width="80.7" height="36" rx="3"/><rect class="s" x=".5" y="7.15" width="79.7" height="26.5"/><path class="h" d="M0 7H80.7"/><text class="tt" x="40.3" y="5">Diet_Type</text>
<use href="#k" y="12.1"/><text class="id" x="9" y="12.1">ID</text>
<use href="#c" y="18.85"/><text x="9" y="18.85">Name</text><text class="u" x="47.7" y="19.3">U</text>
<use href="#c" y="25.6"/><text x="9" y="25.6">Description</text><use href="#b" x="41" y="25.6"/><text class="n" x="41" y="25.6">N</text>
<use href="#c" y="32.35"/><text x="9" y="32.35">Is_Active</text></g>

<g id="Menu" transform="translate(390.7 421.7)"><rect class="b" width="82.6" height="49.5" rx="3"/><rect class="s" x=".5" y="7.15" width="81.6" height="40"/><path class="h" d="M0 7H82.6"/><text class="tt" x="41.3" y="5">Menu</text>
<use href="#k" y="12.1"/><text class="id" x="9" y="12.1">ID</text>
<use href="#f" y="18.85"/><text x="9" y="18.85">Store_ID</text>
<use href="#c" y="25.6"/><text x="9" y="25.6">Name</text><text class="u" x="47.3" y="26">U</text>
<use href="#c" y="32.35"/><text x="9" y="32.35">Description</text><use href="#b" x="40.6" y="32.35"/><text class="n" x="40.6" y="32.35">N</text>
<use href="#c" y="39.1"/><text x="9" y="39.1">Is_Active</text>
<use href="#c" y="45.85"/><text x="9" y="45.85">Comments</text><use href="#b" x="40.6" y="45.85"/><text class="n" x="40.6" y="45.85">N</text></g>

<g id="Diet_Item" transform="translate(685 442.3)"><rect class="b" width="85.7" height="36" rx="3"/><rect class="s" x=".5" y="7.15" width="84.7" height="26.5"/><path class="h" d="M0 7H85.7"/><text class="tt" x="42.8" y="5">Diet_Item</text>
<use href="#k" y="12.1"/><text class="id" x="9" y="12.1">ID</text>
<use href="#f" y="18.85"/><text x="9" y="18.85">Diet_Type_ID</text><text class="u" x="52.7" y="19.3">U</text>
<use href="#f" y="25.6"/><text x="9" y="25.6">Item_ID</text><text class="u" x="52.7" y="26">U</text>
<use href="#c" y="32.35"/><text x="9" y="32.35">Description</text><use href="#b" x="46" y="32.35"/><text class="n" x="46" y="32.35">N</text></g>

<g id="Category" transform="translate(555.7 457.7)"><rect class="b" width="82.6" height="42.8" rx="3"/><rect class="s" x=".5" y="7.15" width="81.6" height="33.25"/><path class="h" d="M0 7H82.6"/><text class="tt" x="41.3" y="5">Category</text>
<use href="#k" y="12.1"/><text class="id" x="9" y="12.1">ID</text>
<use href="#c" y="18.85"/><text x="9" y="18.85">Name</text><text class="u" x="47.6" y="19.3">U</text>
<use href="#c" y="25.6"/><text x="9" y="25.6">Description</text><use href="#b" x="41" y="25.6"/><text class="n" x="41" y="25.6">N</text>
<use href="#c" y="32.35"/><text x="9" y="32.35">Is_Active</text>
<use href="#c" y="39.1"/><text x="9" y="39.1">Comments</text><use href="#b" x="41" y="39.1"/><text class="n" x="41" y="39.1">N</text></g>

<g id="Customization" transform="translate(873.7 459.3)"><rect class="b" width="83.6" height="42.8" rx="3"/><rect class="s" x=".5" y="7.15" width="82.6" height="33.25"/><path class="h" d="M0 7H83.6"/><text class="tt" x="41.8" y="5">Customization</text>
<use href="#k" y="12.1"/><text class="id" x="9" y="12.1">ID</text>
<use href="#c" y="18.85"/><text x="9" y="18.85">Name</text><text class="u" x="50.6" y="19.3">U</text>
<use href="#c" y="25.6"/><text x="9" y="25.6">Display_Title</text>
<use href="#c" y="32.35"/><text x="9" y="32.35">Description</text><use href="#b" x="44" y="32.35"/><text class="n" x="44" y="32.35">N</text>
<use href="#c" y="39.1"/><text x="9" y="39.1">Is_Active</text></g>

<g id="Item" transform="translate(698.3 502.3)"><rect class="b" width="82.4" height="63" rx="3"/><rect class="s" x=".5" y="7.15" width="81.4" height="53.5"/><path class="h" d="M0 7H82.4"/><text class="tt" x="41.2" y="5">Item</text>
<use href="#k" y="12.1"/><text class="id" x="9" y="12.1">ID</text>
<use href="#c" y="18.85"/><text x="9" y="18.85">Name</text><text class="u" x="47.4" y="19.3">U</text>
<use href="#c" y="25.6"/><text x="9" y="25.6">Description</text><use href="#b" x="41" y="25.6"/><text class="n" x="41" y="25.6">N</text>
<use href="#c" y="32.35"/><text x="9" y="32.35">In_Stock</text>
<use href="#c" y="39.1"/><text x="9" y="39.1">Calories</text><use href="#b" x="41" y="39.1"/><text class="n" x="41" y="39.1">N</text>
<use href="#c" y="45.85"/><text x="9" y="45.85">Ingredients</text><use href="#b" x="41" y="45.85"/><text class="n" x="41" y="45.85">N</text>
<use href="#c" y="52.6"/><text x="9" y="52.6">Recipe</text><use href="#b" x="41" y="52.6"/><text class="n" x="41" y="52.6">N</text>
<use href="#c" y="59.35"/><text x="9" y="59.35">Comments</text><use href="#b" x="41" y="59.35"/><text class="n" x="41" y="59.35">N</text></g>

<g id="Menu_Category" transform="translate(449.7 516.7)"><rect class="b" width="83" height="36" rx="3"/><rect class="s" x=".5" y="7.15" width="82" height="26.5"/><path class="h" d="M0 7H83"/><text class="tt" x="41.5" y="5">Menu_Category</text>
<use href="#k" y="12.1"/><text class="id" x="9" y="12.1">ID</text>
<use href="#f" y="18.85"/><text x="9" y="18.85">Menu_ID</text><text class="u" x="50.3" y="19.3">U</text>
<use href="#f" y="25.6"/><text x="9" y="25.6">Category_ID</text><text class="u" x="50.3" y="26">U</text>
<use href="#c" y="32.35"/><text x="9" y="32.35">Description</text><use href="#b" x="43.6" y="32.35"/><text class="n" x="43.6" y="32.35">N</text></g>

<g id="Category_Item" transform="translate(587.3 526)"><rect class="b" width="82.4" height="36" rx="3"/><rect class="s" x=".5" y="7.15" width="81.4" height="26.5"/><path class="h" d="M0 7H82.4"/><text class="tt" x="41.2" y="5">Category_Item</text>
<use href="#k" y="12.1"/><text class="id" x="9" y="12.1">ID</text>
<use href="#f" y="18.85"/><text x="9" y="18.85">Category_ID</text><text class="u" x="50" y="19.3">U</text>
<use href="#f" y="25.6"/><text x="9" y="25.6">Item_ID</text><text class="u" x="50" y="26">U</text>
<use href="#c" y="32.35"/><text x="9" y="32.35">Description</text><use href="#b" x="43.4" y="32.35"/><text class="n" x="43.4" y="32.35">N</text></g>

<g id="Payment" transform="translate(7.7 535.7)"><rect class="b" width="93.3" height="69.8" rx="3"/><rect class="s" x=".5" y="7.15" width="92.3" height="60.25"/><path class="h" d="M0 7H93.3"/><text class="tt" x="46.6" y="5">Payment</text>
<use href="#k" y="12.1"/><text class="id" x="9" y="12.1">ID</text>
<use href="#c" y="18.85"/><text x="9" y="18.85">Payment_No</text><text class="u" x="57" y="19.3">U</text>
<use href="#f" y="25.6"/><text x="9" y="25.6">Order_ID</text>
<use href="#c" y="32.35"/><text x="9" y="32.35">Amount</text>
<use href="#c" y="39.1"/><text x="9" y="39.1">Payment_Time</text>
<use href="#c" y="45.85"/><text x="9" y="45.85">Is_Canceled</text>
<use href="#c" y="52.6"/><text x="9" y="52.6">Canceled_Time</text><use href="#b" x="50.6" y="52.6"/><text class="n" x="50.6" y="52.6">N</text>
<use href="#c" y="59.35"/><text x="9" y="59.35">Cancel_Reason</text><use href="#b" x="50.6" y="59.35"/><text class="n" x="50.6" y="59.35">N</text>
<use href="#c" y="66.1"/><text x="9" y="66.1">Comments</text><use href="#b" x="50.6" y="66.1"/><text class="n" x="50.6" y="66.1">N</text></g>

<g id="Item_Customization" transform="translate(809.7 536)"><rect class="b" width="95.6" height="36" rx="3"/><rect class="s" x=".5" y="7.15" width="94.6" height="26.5"/><path class="h" d="M0 7H95.6"/><text class="tt" x="47.8" y="5">Item_Customization</text>
<use href="#k" y="12.1"/><text class="id" x="9" y="12.1">ID</text>
<use href="#f" y="18.85"/><text x="9" y="18.85">Item_ID</text><text class="u" x="60.3" y="19.3">U</text>
<use href="#f" y="25.6"/><text x="9" y="25.6">Customization_ID</text><text class="u" x="60.3" y="26">U</text>
<use href="#c" y="32.35"/><text x="9" y="32.35">Comments</text><use href="#b" x="54" y="32.35"/><text class="n" x="54" y="32.35">N</text></g>

<g id="Customization_Option" transform="translate(911.7 536)"><rect class="b" width="93.6" height="42.8" rx="3"/><rect class="s" x=".5" y="7.15" width="92.6" height="33.25"/><path class="h" d="M0 7H93.6"/><text class="tt" x="46.8" y="5">Customization_Option</text>
<use href="#k" y="12.1"/><text class="id" x="9" y="12.1">ID</text>
<use href="#f" y="18.85"/><text x="9" y="18.85">Customization_ID</text>
<use href="#c" y="25.6"/><text x="9" y="25.6">Name</text><text class="u" x="60.3" y="26">U</text>
<use href="#c" y="32.35"/><text x="9" y="32.35">Description</text><use href="#b" x="54" y="32.35"/><text class="n" x="54" y="32.35">N</text>
<use href="#c" y="39.1"/><text x="9" y="39.1">Is_Active</text></g>

<g id="Order_Line" transform="translate(306.7 560.3)"><rect class="b" width="90" height="90" rx="3"/><rect class="s" x=".5" y="7.15" width="89" height="80.5"/><path class="h" d="M0 7H90"/><text class="tt" x="45" y="5">Order_Line</text>
<use href="#k" y="12.1"/><text class="id" x="9" y="12.1">ID</text>
<use href="#f" y="18.85"/><text x="9" y="18.85">Order_ID</text>
<use href="#f" y="25.6"/><text x="9" y="25.6">Item_ID</text><use href="#b" x="54.6" y="25.6"/><text class="n" x="54.6" y="25.6">N</text>
<use href="#f" y="32.35"/><text x="9" y="32.35">Item_Option_ID</text><use href="#b" x="54.6" y="32.35"/><text class="n" x="54.6" y="32.35">N</text>
<use href="#c" y="39.1"/><text x="9" y="39.1">Line_No</text>
<use href="#c" y="45.85"/><text x="9" y="45.85">Quantity</text>
<use href="#c" y="52.6"/><text x="9" y="52.6">Customer_Review</text><use href="#b" x="54.6" y="52.6"/><text class="n" x="54.6" y="52.6">N</text>
<use href="#c" y="59.35"/><text x="9" y="59.35">Customer_Like</text><use href="#b" x="54.6" y="59.35"/><text class="n" x="54.6" y="59.35">N</text>
<use href="#c" y="66.1"/><text x="9" y="66.1">Is_Canceled</text>
<use href="#c" y="72.85"/><text x="9" y="72.85">Canceled_Time</text><use href="#b" x="54.6" y="72.85"/><text class="n" x="54.6" y="72.85">N</text>
<use href="#c" y="79.6"/><text x="9" y="79.6">Cancel_Reason</text><use href="#b" x="54.6" y="79.6"/><text class="n" x="54.6" y="79.6">N</text>
<use href="#c" y="86.35"/><text x="9" y="86.35">Comments</text><use href="#b" x="54.6" y="86.35"/><text class="n" x="54.6" y="86.35">N</text></g>

<g id="Discount_Type" transform="translate(438.7 597.3)"><rect class="b" width="103.6" height="96.8" rx="3"/><rect class="s" x=".5" y="7.15" width="102.6" height="87.25"/><path class="h" d="M0 7H103.6"/><text class="tt" x="51.8" y="5">Discount_Type</text>
<use href="#k" y="12.1"/><text class="id" x="9" y="12.1">ID</text>
<use href="#c" y="18.85"/><text x="9" y="18.85">Name</text><text class="u" x="68" y="19.3">U</text>
<use href="#c" y="25.6"/><text x="9" y="25.6">Description</text><use href="#b" x="61.3" y="25.6"/><text class="n" x="61.3" y="25.6">N</text>
<use href="#c" y="32.35"/><text x="9" y="32.35">Is_Percentage</text>
<use href="#c" y="39.1"/><text x="9" y="39.1">Value</text>
<use href="#c" y="45.85"/><text x="9" y="45.85">Created_Time</text>
<use href="#c" y="52.6"/><text x="9" y="52.6">Start_Time</text>
<use href="#c" y="59.35"/><text x="9" y="59.35">End_Time</text><use href="#b" x="61.3" y="59.35"/><text class="n" x="61.3" y="59.35">N</text>
<use href="#c" y="66.1"/><text x="9" y="66.1">Coupon_Code</text><use href="#b" x="61.3" y="66.1"/><text class="n" x="61.3" y="66.1">N</text>
<use href="#c" y="72.85"/><text x="9" y="72.85">Min_Order_Value</text>
<use href="#c" y="79.6"/><text x="9" y="79.6">Min_Item_Quantity</text>
<use href="#c" y="86.35"/><text x="9" y="86.35">Max_Discount_Value</text>
<use href="#c" y="93.1"/><text x="9" y="93.1">Comments</text><use href="#b" x="61.3" y="93.1"/><text class="n" x="61.3" y="93.1">N</text></g>

<g id="Price" transform="translate(737.7 605.7)"><rect class="b" width="86" height="76.5" rx="3"/><rect class="s" x=".5" y="7.15" width="85" height="67"/><path class="h" d="M0 7H86"/><text class="tt" x="43" y="5">Price</text>
<use href="#k" y="12.1"/><text class="id" x="9" y="12.1">ID</text>
<use href="#f" y="18.85"/><text x="9" y="18.85">Item_ID</text><use href="#b" x="50" y="18.85"/><text class="n" x="50" y="18.85">N</text>
<use href="#f" y="25.6"/><text x="9" y="25.6">Item_Option_ID</text><use href="#b" x="50" y="25.6"/><text class="n" x="50" y="25.6">N</text>
<use href="#c" y="32.35"/><text x="9" y="32.35">Price</text>
<use href="#c" y="39.1"/><text x="9" y="39.1">Tax_Rate</text>
<use href="#c" y="45.85"/><text x="9" y="45.85">Created_Time</text>
<use href="#c" y="52.6"/><text x="9" y="52.6">Start_Time</text>
<use href="#c" y="59.35"/><text x="9" y="59.35">End_Time</text><use href="#b" x="50" y="59.35"/><text class="n" x="50" y="59.35">N</text>
<use href="#c" y="66.1"/><text x="9" y="66.1">Description</text><use href="#b" x="50" y="66.1"/><text class="n" x="50" y="66.1">N</text>
<use href="#c" y="72.85"/><text x="9" y="72.85">Comments</text><use href="#b" x="50" y="72.85"/><text class="n" x="50" y="72.85">N</text></g>

<g id="Item_Option" transform="translate(877 608.7)"><rect class="b" width="112.7" height="49.5" rx="3"/><rect class="s" x=".5" y="7.15" width="111.7" height="40"/><path class="h" d="M0 7H112.7"/><text class="tt" x="56.3" y="5">Item_Option</text>
<use href="#k" y="12.1"/><text class="id" x="9" y="12.1">ID</text>
<use href="#f" y="18.85"/><text x="9" y="18.85">Item_Customization_ID</text><text class="u" x="76.7" y="19.3">U</text>
<use href="#f" y="25.6"/><text x="9" y="25.6">Customization_Option_ID</text><text class="u" x="76.7" y="26">U</text>
<use href="#c" y="32.35"/><text x="9" y="32.35">In_Stock</text>
<use href="#c" y="39.1"/><text x="9" y="39.1">Default_Quantity</text>
<use href="#c" y="45.85"/><text x="9" y="45.85">Comments</text><use href="#b" x="70" y="45.85"/><text class="n" x="70" y="45.85">N</text></g>

<g id="Invoice" transform="translate(7.7 637.7)"><rect class="b" width="93.3" height="83" rx="3"/><rect class="s" x=".5" y="7.15" width="92.3" height="73.75"/><path class="h" d="M0 7H93.3"/><text class="tt" x="46.6" y="5">Invoice</text>
<use href="#k" y="12.1"/><text class="id" x="9" y="12.1">ID</text>
<use href="#c" y="18.85"/><text x="9" y="18.85">Invoice_No</text><text class="u" x="57" y="19.3">U</text>
<use href="#f" y="25.6"/><text x="9" y="25.6">Payment_ID</text>
<use href="#c" y="32.35"/><text x="9" y="32.35">Subtotal</text>
<use href="#c" y="39.1"/><text x="9" y="39.1">Tax</text>
<use href="#c" y="45.85"/><text x="9" y="45.85">Total</text>
<use href="#c" y="52.6"/><text x="9" y="52.6">Invoice_Time</text>
<use href="#c" y="59.35"/><text x="9" y="59.35">Is_Canceled</text>
<use href="#c" y="66.1"/><text x="9" y="66.1">Canceled_Time</text><use href="#b" x="50.6" y="66.1"/><text class="n" x="50.6" y="66.1">N</text>
<use href="#c" y="72.85"/><text x="9" y="72.85">Cancel_Reason</text><use href="#b" x="50.6" y="72.85"/><text class="n" x="50.6" y="72.85">N</text>
<use href="#c" y="79.6"/><text x="9" y="79.6">Comments</text><use href="#b" x="50.6" y="79.6"/><text class="n" x="50.6" y="79.6">N</text></g>

<g id="Invoice_Line" transform="translate(187.7 642.7)"><rect class="b" width="85.6" height="62" rx="3"/><rect class="s" x=".5" y="7.15" width="84.6" height="53.5"/><path class="h" d="M0 7H85.6"/><text class="tt" x="42.8" y="5">Invoice_Line</text>
<use href="#k" y="12.1"/><text class="id" x="9" y="12.1">ID</text>
<use href="#f" y="18.85"/><text x="9" y="18.85">Invoice_ID</text>
<use href="#f" y="25.6"/><text x="9" y="25.6">Order_Line_ID</text>
<use href="#c" y="32.35"/><text x="9" y="32.35">Line_No</text>
<use href="#c" y="39.1"/><text x="9" y="39.1">Is_Canceled</text>
<use href="#c" y="45.85"/><text x="9" y="45.85">Canceled_Time</text><use href="#b" x="50.6" y="45.85"/><text class="n" x="50.6" y="45.85">N</text>
<use href="#c" y="52.6"/><text x="9" y="52.6">Cancel_Reason</text><use href="#b" x="50.6" y="52.6"/><text class="n" x="50.6" y="52.6">N</text>
<use href="#c" y="59.35"/><text x="9" y="59.35">Comments</text><use href="#b" x="50.6" y="59.35"/><text class="n" x="50.6" y="59.35">N</text></g>

<g id="Discount" transform="translate(638.7 658)"><rect class="b" width="91" height="49.5" rx="3"/><rect class="s" x=".5" y="7.15" width="90" height="40"/><path class="h" d="M0 7H91"/><text class="tt" x="45.5" y="5">Discount</text>
<use href="#k" y="12.1"/><text class="id" x="9" y="12.1">ID</text>
<use href="#f" y="18.85"/><text x="9" y="18.85">Discount_Type_ID</text>
<use href="#f" y="25.6"/><text x="9" y="25.6">Category_ID</text><use href="#b" x="56" y="25.6"/><text class="n" x="56" y="25.6">N</text>
<use href="#f" y="32.35"/><text x="9" y="32.35">Item_ID</text><use href="#b" x="56" y="32.35"/><text class="n" x="56" y="32.35">N</text>
<use href="#f" y="39.1"/><text x="9" y="39.1">Item_Option_ID</text><use href="#b" x="56" y="39.1"/><text class="n" x="56" y="39.1">N</text>
<use href="#c" y="45.85"/><text x="9" y="45.85">Comments</text><use href="#b" x="56" y="45.85"/><text class="n" x="56" y="45.85">N</text></g>
</g>

<g id="watermarks">
<text class="w" transform="translate(7 55) rotate(-24.7)">DataModelPack.com</text><text class="w" transform="translate(127 55) rotate(-24.7)">DataModelPack.com</text><text class="w" transform="translate(268 55) rotate(-24.7)">DataModelPack.com</text><text class="w" transform="translate(395 55) rotate(-24.7)">DataModelPack.com</text><text class="w" transform="translate(532 55) rotate(-24.7)">DataModelPack.com</text><text class="w" transform="translate(652 55) rotate(-24.7)">DataModelPack.com</text><text class="w" transform="translate(792 55) rotate(-24.7)">DataModelPack.com</text><text class="w" transform="translate(917 55) rotate(-24.7)">DataModelPack.com</text>
<text class="w" transform="translate(7 180) rotate(-24.7)">DataModelPack.com</text><text class="w" transform="translate(127 180) rotate(-24.7)">DataModelPack.com</text><text class="w" transform="translate(268 180) rotate(-24.7)">DataModelPack.com</text><text class="w" transform="translate(395 180) rotate(-24.7)">DataModelPack.com</text><text class="w" transform="translate(532 180) rotate(-24.7)">DataModelPack.com</text><text class="w" transform="translate(652 180) rotate(-24.7)">DataModelPack.com</text><text class="w" transform="translate(792 180) rotate(-24.7)">DataModelPack.com</text><text class="w" transform="translate(917 180) rotate(-24.7)">DataModelPack.com</text>
<text class="w" transform="translate(7 285) rotate(-24.7)">DataModelPack.com</text><text class="w" transform="translate(127 285) rotate(-24.7)">DataModelPack.com</text><text class="w" transform="translate(268 285) rotate(-24.7)">DataModelPack.com</text><text class="w" transform="translate(395 285) rotate(-24.7)">DataModelPack.com</text><text class="w" transform="translate(532 285) rotate(-24.7)">DataModelPack.com</text><text class="w" transform="translate(652 285) rotate(-24.7)">DataModelPack.com</text><text class="w" transform="translate(792 285) rotate(-24.7)">DataModelPack.com</text><text class="w" transform="translate(917 285) rotate(-24.7)">DataModelPack.com</text>
<text class="w" transform="translate(7 421) rotate(-24.7)">DataModelPack.com</text><text class="w" transform="translate(127 421) rotate(-24.7)">DataModelPack.com</text><text class="w" transform="translate(268 421) rotate(-24.7)">DataModelPack.com</text><text class="w" transform="translate(395 421) rotate(-24.7)">DataModelPack.com</text><text class="w" transform="translate(532 421) rotate(-24.7)">DataModelPack.com</text><text class="w" transform="translate(652 421) rotate(-24.7)">DataModelPack.com</text><text class="w" transform="translate(792 421) rotate(-24.7)">DataModelPack.com</text><text class="w" transform="translate(917 421) rotate(-24.7)">DataModelPack.com</text>
<text class="w" transform="translate(7 545) rotate(-24.7)">DataModelPack.com</text><text class="w" transform="translate(127 545) rotate(-24.7)">DataModelPack.com</text><text class="w" transform="translate(268 545) rotate(-24.7)">DataModelPack.com</text><text class="w" transform="translate(395 545) rotate(-24.7)">DataModelPack.com</text><text class="w" transform="translate(532 545) rotate(-24.7)">DataModelPack.com</text><text class="w" transform="translate(652 545) rotate(-24.7)">DataModelPack.com</text><text class="w" transform="translate(792 545) rotate(-24.7)">DataModelPack.com</text><text class="w" transform="translate(917 545) rotate(-24.7)">DataModelPack.com</text>
<text class="w" transform="translate(7 653) rotate(-24.7)">DataModelPack.com</text><text class="w" transform="translate(127 653) rotate(-24.7)">DataModelPack.com</text><text class="w" transform="translate(268 653) rotate(-24.7)">DataModelPack.com</text><text class="w" transform="translate(395 653) rotate(-24.7)">DataModelPack.com</text><text class="w" transform="translate(532 650) rotate(-24.7)">DataModelPack.com</text><text class="w" transform="translate(652 650) rotate(-24.7)">DataModelPack.com</text><text class="w" transform="translate(792 650) rotate(-24.7)">DataModelPack.com</text><text class="w" transform="translate(917 650) rotate(-24.7)">DataModelPack.com</text>
</g>
</svg>
